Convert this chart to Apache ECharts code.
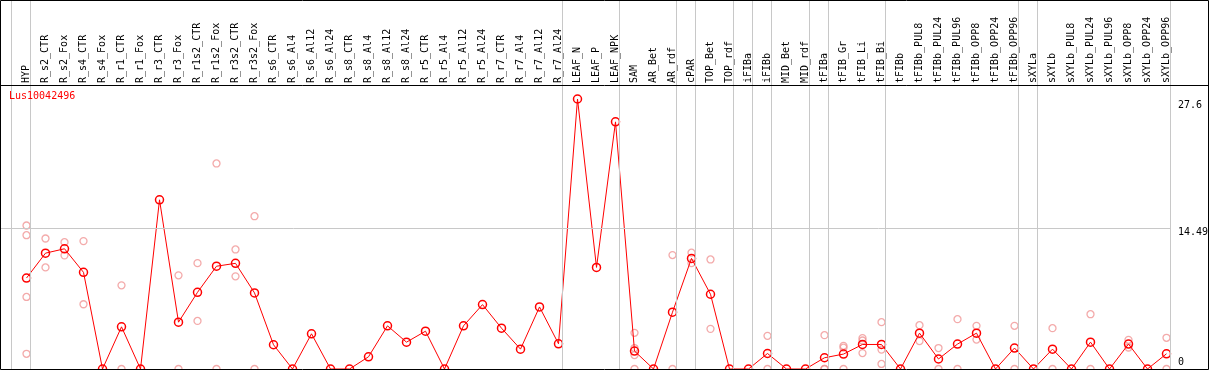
<!DOCTYPE html>
<html><head><meta charset="utf-8">
<script src="https://cdn.jsdelivr.net/npm/echarts@6/dist/echarts.min.js"></script>
<style>html,body{margin:0;padding:0;background:#fff}#c{width:1209px;height:370px}</style>
</head><body><div id="c"></div>
<script>
const seriesName = 'Lus10042496';
const categories = ['HYP','R_s2_CTR','R_s2_Fox','R_s4_CTR','R_s4_Fox','R_r1_CTR','R_r1_Fox','R_r3_CTR','R_r3_Fox','R_r1s2_CTR','R_r1s2_Fox','R_r3s2_CTR','R_r3s2_Fox','R_s6_CTR','R_s6_Al4','R_s6_Al12','R_s6_Al24','R_s8_CTR','R_s8_Al4','R_s8_Al12','R_s8_Al24','R_r5_CTR','R_r5_Al4','R_r5_Al12','R_r5_Al24','R_r7_CTR','R_r7_Al4','R_r7_Al12','R_r7_Al24','LEAF_N','LEAF_P','LEAF_NPK','SAM','AR_Bet','AR_rdf','cPAR','TOP_Bet','TOP_rdf','iFIBa','iFIBb','MID_Bet','MID_rdf','tFIBa','tFIB_Gr','tFIB_Li','tFIB_Bi','tFIBb','tFIBb_PUL8','tFIBb_PUL24','tFIBb_PUL96','tFIBb_OPP8','tFIBb_OPP24','tFIBb_OPP96','sXYLa','sXYLb','sXYLb_PUL8','sXYLb_PUL24','sXYLb_PUL96','sXYLb_OPP8','sXYLb_OPP24','sXYLb_OPP96'];
const means = [9.38,11.95,12.4,9.97,0,4.35,0,17.45,4.83,7.91,10.6,10.9,7.85,2.5,0,3.63,0,0,1.26,4.45,2.77,3.9,0,4.45,6.64,4.21,2.05,6.4,2.6,27.85,10.48,25.49,1.85,0,5.86,11.41,7.71,0,0,1.6,0,0,1.16,1.54,2.53,2.53,0,3.7,1.03,2.57,3.7,0,2.16,0,2.05,0,2.77,0,2.57,0,1.57];
const replicates = [[14.8,13.8,7.43,1.57],[13.46,10.48],[13.08,11.72],[13.19,6.68],[],[8.63,0],[],[],[9.66,0],[10.92,4.96],[21.2,0],[12.33,9.56],[15.76,0],
  [],[],[],[],[],[],[],[],[],[],[],[],[],[],[],[],
  [],[],[],
  [3.73,2.16,1.44,0],[],[11.75,0],[12.0,10.92],[11.3,4.14],[],[],[3.42,0],[],[],[3.49,0,0],[2.39,2.2,0],[3.19,2.94,1.64],[4.83,2.0,0.52],
  [],[4.52,2.88],[2.16,0],[5.14,0],[4.45,3.04],[],[4.45,0],[],[4.21,0],[],[5.65,0],[],[3.01,2.22],[],[3.22,0]];
const groupEnds = [-1,0,28,31,34,35,37,38,39,41,42,45,52,53,60];
const yTickLabels = [0, 14.49, 27.6];
const gridLineValues = [14.49];

const FONT = 'DejaVu Sans Mono';
const STEP = 19, GRID_L = 1, GRID_R = 1171, PLOT_TOP = 86, PLOT_BOTTOM = 369, FIRST_X = 26.5;
const xMin = -(FIRST_X - GRID_L) / STEP;
const xMax = xMin + (GRID_R - GRID_L) / STEP;
const SEP_OFF = 4 / STEP;
const yMax = 29.19;

const sepData = groupEnds.map(g => ({ xAxis: g + SEP_OFF }));
const idx = categories.map((_, i) => i);
const meanData = means.map((v, i) => [i, v]);
const repData = [];
replicates.forEach((arr, i) => arr.forEach(v => repData.push([i, v])));

const sepLine = { color: '#c8c8c8', type: 'solid', width: 1 };
const chart = echarts.init(document.getElementById('c'), null, { renderer: 'canvas' });
chart.setOption({
  animation: false,
  backgroundColor: '#fff',
  title: { text: seriesName, left: 9, top: 91, padding: 0,
    textStyle: { color: '#ff0000', fontSize: 10, fontWeight: 'normal', fontFamily: FONT } },
  grid: [
    { left: GRID_L, top: 0, width: GRID_R - GRID_L, height: PLOT_TOP },
    { left: GRID_L, top: PLOT_TOP, width: GRID_R - GRID_L, height: PLOT_BOTTOM - PLOT_TOP }
  ],
  xAxis: [
    { type: 'value', gridIndex: 0, min: xMin, max: xMax, show: false },
    { type: 'value', gridIndex: 1, min: xMin, max: xMax, position: 'top',
      axisLine: { show: false }, axisTick: { show: false }, splitLine: { show: false },
      axisLabel: { customValues: idx, formatter: v => categories[Math.round(v)] || '',
        rotate: 90, margin: 3, fontSize: 10, fontFamily: FONT, color: '#000' } }
  ],
  yAxis: [
    { type: 'value', gridIndex: 0, min: 0, max: 1, show: false },
    { type: 'value', gridIndex: 1, min: 0, max: yMax, show: false }
  ],
  series: [
    { type: 'scatter', xAxisIndex: 0, yAxisIndex: 0, data: [], silent: true,
      markLine: { silent: true, symbol: ['none', 'none'], label: { show: false }, lineStyle: sepLine,
        emphasis: { disabled: true }, data: sepData } },
    { type: 'scatter', name: 'rep', xAxisIndex: 1, yAxisIndex: 1, data: repData, clip: false, silent: true,
      symbol: 'circle', symbolSize: 7,
      itemStyle: { color: 'rgba(0,0,0,0)', borderColor: '#f09595', borderWidth: 1.3 },
      markLine: { silent: true, symbol: ['none', 'none'], label: { show: false }, lineStyle: sepLine,
        emphasis: { disabled: true },
        data: sepData.concat(gridLineValues.map(v => ({ yAxis: v }))) } },
    { type: 'line', name: seriesName, xAxisIndex: 1, yAxisIndex: 1, data: meanData, clip: false, silent: true,
      symbol: 'circle', symbolSize: 8, showAllSymbol: true,
      lineStyle: { color: '#ff0000', width: 1 },
      itemStyle: { color: 'rgba(0,0,0,0)', borderColor: '#ff0000', borderWidth: 1.5 } }
  ]
});

const yLabelGraphics = yTickLabels.map(v => {
  const py = chart.convertToPixel({ yAxisIndex: 1 }, v);
  return { type: 'text', x: GRID_R + 7, y: v === 0 ? py - 2 : py - 1, silent: true, z: 100,
    style: { text: String(v), fontSize: 10, fontFamily: FONT, fill: '#000',
      align: 'left', verticalAlign: v === 0 ? 'bottom' : 'top' } };
});
chart.setOption({
  graphic: [
    { type: 'rect', silent: true, z: 100, shape: { x: 0.5, y: 0.5, width: 1208, height: 369 },
      style: { fill: null, stroke: '#000', lineWidth: 1 } },
    { type: 'line', silent: true, z: 100, shape: { x1: 0, y1: 85.5, x2: 1209, y2: 85.5 },
      style: { stroke: '#000', lineWidth: 1 } }
  ].concat(yLabelGraphics)
});
</script></body></html>
